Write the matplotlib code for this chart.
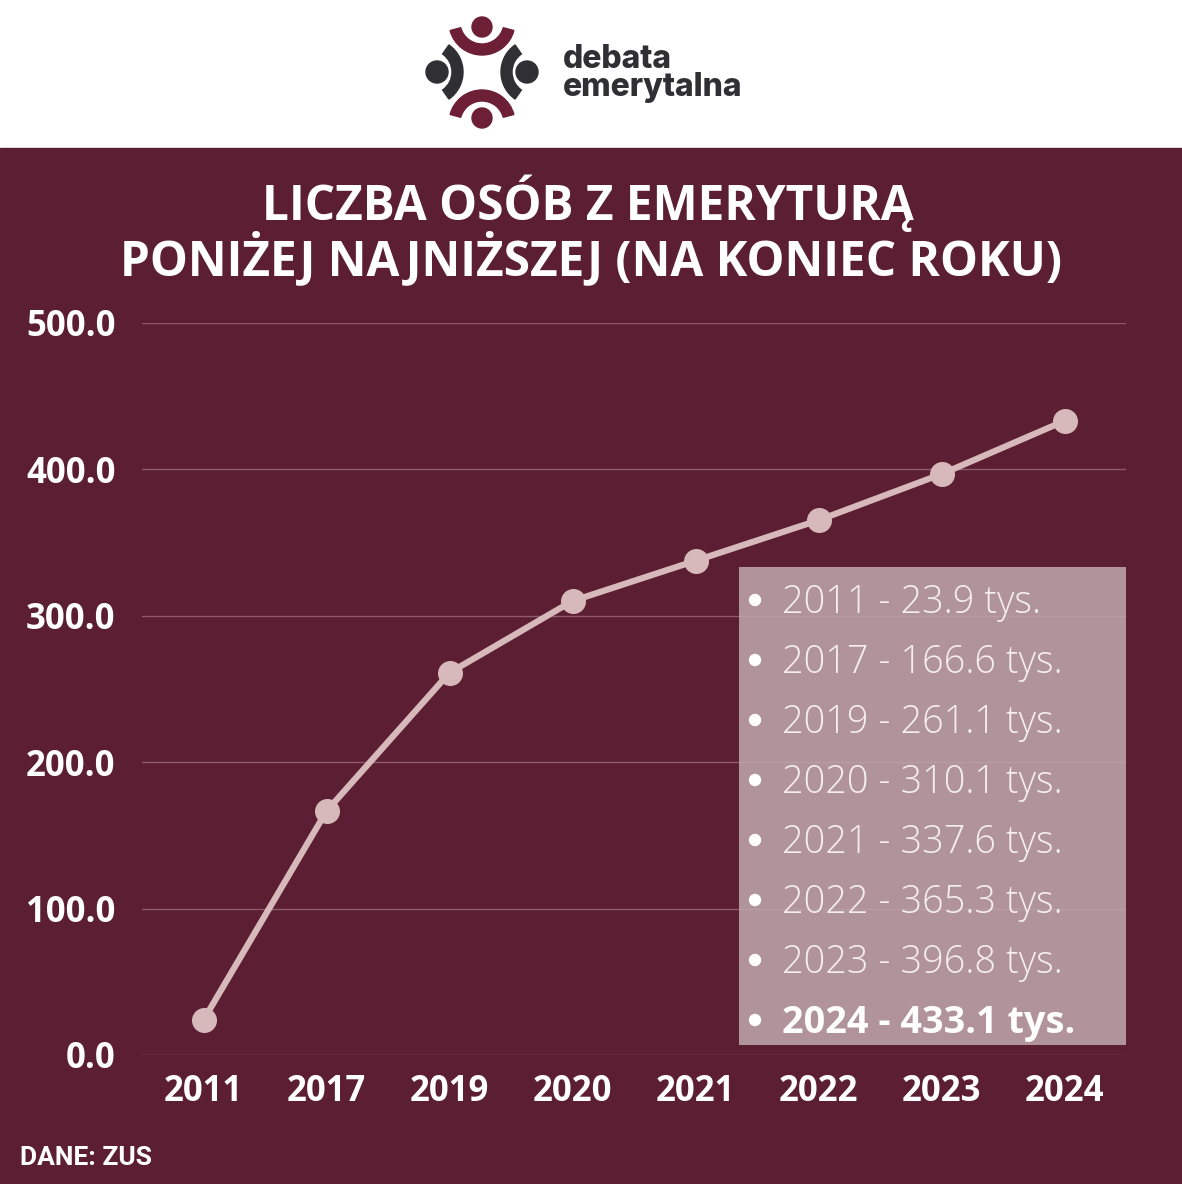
import matplotlib
matplotlib.use("Agg")
import matplotlib.pyplot as plt
from matplotlib.patches import Circle, Wedge, Rectangle

# data (tys. osób, koniec roku)
years = ["2011", "2017", "2019", "2020", "2021", "2022", "2023", "2024"]
values = [23.9, 166.6, 261.1, 310.1, 337.6, 365.3, 396.8, 433.1]
y_ticks = [0, 100, 200, 300, 400, 500]

W, H = 1182, 1184
BG = "#5b1e32"
MAROON = "#6d1f36"
DARK = "#2f2f34"
LINE = "#d8b9bb"
GRID = "#8e5b6b"

fig = plt.figure(figsize=(W / 100, H / 100), dpi=100)

# background + logo, in pixel coordinates
bg = fig.add_axes([0, 0, 1, 1], zorder=0)
bg.set_xlim(0, W)
bg.set_ylim(H, 0)
bg.axis("off")
bg.add_patch(Rectangle((0, 0), W, 148, color="white"))
bg.add_patch(Rectangle((0, 148), W, H - 148, color=BG))

# logo: four figures around a centre
bg.add_patch(Circle((482, 27), 10, color=MAROON))
bg.add_patch(Wedge((482, 22), 33, 15, 165, width=11, color=MAROON))
bg.add_patch(Circle((482, 118), 10, color=MAROON))
bg.add_patch(Wedge((482, 123), 33, 195, 345, width=11, color=MAROON))
bg.add_patch(Circle((437, 72), 11, color=DARK))
bg.add_patch(Wedge((430, 72), 33, -55, 55, width=11, color=DARK))
bg.add_patch(Circle((527, 72), 11, color=DARK))
bg.add_patch(Wedge((534, 72), 33, 125, 235, width=11, color=DARK))
bg.text(563, 68, "debata", fontsize=23, fontweight="heavy", family="Inter",
        color=DARK, va="baseline", ha="left")
bg.text(563, 96, "emerytalna", fontsize=23, fontweight="heavy", family="Inter",
        color=DARK, va="baseline", ha="left")

# title
bg.text(W / 2 - 3, 203, "LICZBA OSÓB Z EMERYTURĄ", fontsize=34.4, fontweight="bold",
        family="Open Sans", color="white", ha="center", va="center")
bg.text(W / 2, 260, "PONIŻEJ NAJNIŻSZEJ (NA KONIEC ROKU)", fontsize=34.4,
        fontweight="bold", family="Open Sans", color="white", ha="center", va="center")

# footer
bg.text(20, 1158, "DANE: ZUS", fontsize=19, fontweight="bold", family="Roboto",
        fontstretch="condensed", color="white", ha="left", va="center")

# chart
ax = fig.add_axes([142 / W, 129 / H, 984 / W, 732 / H], zorder=1)
ax.set_facecolor("none")
x = range(len(years))
ax.plot(x, values, color=LINE, lw=4.5, marker="o", markersize=17,
        markerfacecolor=LINE, markeredgecolor=LINE, clip_on=False, zorder=3)
ax.set_xlim(-0.5, len(years) - 0.5)
ax.set_ylim(0, 500)
ax.set_xticks(list(x))
ax.set_xticklabels(years)
ax.set_yticks(y_ticks)
ax.set_yticklabels([f"{v:.1f}" for v in y_ticks])
ax.grid(axis="y", color=GRID, lw=1)
ax.set_axisbelow(True)
for s in ax.spines.values():
    s.set_visible(False)
ax.tick_params(length=0, colors="white", labelsize=25, pad=14)
ax.tick_params(axis="y", pad=19)
for lab in ax.get_xticklabels() + ax.get_yticklabels():
    lab.set_fontweight("bold")
    lab.set_family("Open Sans")

# value list box
ov = fig.add_axes([0, 0, 1, 1], zorder=2)
ov.set_xlim(0, W)
ov.set_ylim(H, 0)
ov.axis("off")
ov.patch.set_alpha(0)
ov.add_patch(Rectangle((739, 567), 387, 478, facecolor="#c1a8af", alpha=0.85, lw=0))
for i, (yr, v) in enumerate(zip(years, values)):
    yy = 600 + i * 60
    last = i == len(years) - 1
    ov.add_patch(Circle((755, yy), 5.5, color="white"))
    ov.text(782, yy + 3, f"{yr} - {v:.1f} tys.", fontsize=27.3,
            fontweight="bold" if last else "light", family="Open Sans",
            color="white" if last else "#f5eef0", ha="left", va="center")

plt.savefig("out.png", dpi=100)
plt.close()
